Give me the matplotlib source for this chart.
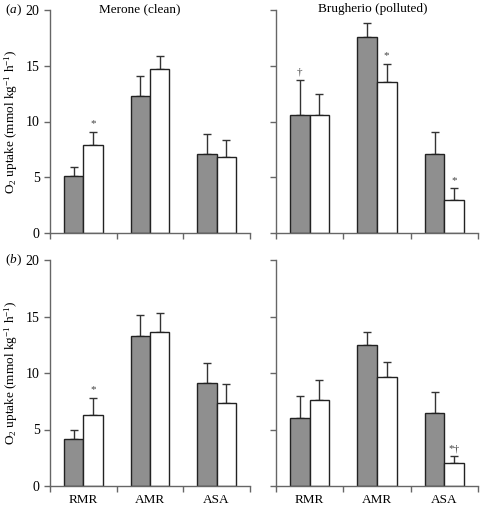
import matplotlib
matplotlib.use("Agg")
import matplotlib.pyplot as plt
import numpy as np

plt.rcParams['font.family'] = ['Liberation Serif', 'DejaVu Serif']
plt.rcParams['mathtext.fontset'] = 'custom'
plt.rcParams['mathtext.rm'] = 'Liberation Serif'
plt.rcParams['mathtext.it'] = 'Liberation Serif:italic'

categories = ["RMR", "AMR", "ASA"]
sites = ["Merone (clean)", "Brugherio (polluted)"]
panels = ["a", "b"]

# panel (a)
a_merone_grey = [5.15, 12.3, 7.1]
a_merone_grey_err = [0.8, 1.8, 1.75]
a_merone_white = [7.9, 14.75, 6.85]
a_merone_white_err = [1.2, 1.1, 1.45]
a_brug_grey = [10.55, 17.6, 7.05]
a_brug_grey_err = [3.15, 1.2, 2.0]
a_brug_white = [10.55, 13.55, 2.95]
a_brug_white_err = [1.9, 1.65, 1.05]

# panel (b)
b_merone_grey = [4.15, 13.25, 9.15]
b_merone_grey_err = [0.8, 1.85, 1.7]
b_merone_white = [6.25, 13.6, 7.35]
b_merone_white_err = [1.55, 1.75, 1.7]
b_brug_grey = [6.0, 12.45, 6.45]
b_brug_grey_err = [2.0, 1.15, 1.85]
b_brug_white = [7.6, 9.65, 2.0]
b_brug_white_err = [1.75, 1.3, 0.62]

# significance markers: (category index, which bar, symbol)
a_merone_marks = [(0, "white", "*")]
a_brug_marks = [(0, "grey", "\u2020"), (1, "white", "*"), (2, "white", "*")]
b_merone_marks = [(0, "white", "*")]
b_brug_marks = [(2, "white", "*\u2020")]

data = {
    (0, 0): (a_merone_grey, a_merone_grey_err, a_merone_white, a_merone_white_err, a_merone_marks),
    (0, 1): (a_brug_grey, a_brug_grey_err, a_brug_white, a_brug_white_err, a_brug_marks),
    (1, 0): (b_merone_grey, b_merone_grey_err, b_merone_white, b_merone_white_err, b_merone_marks),
    (1, 1): (b_brug_grey, b_brug_grey_err, b_brug_white, b_brug_white_err, b_brug_marks),
}

W, H = 480, 505
fig = plt.figure(figsize=(W / 100, H / 100), dpi=100)

lefts = [50, 276]
widths = [200, 202]
tops = [10, 260]
bottoms = [233, 486]
title_x = [140, 373]

spine_col = "#666666"
grey_fill = "#8f8f8f"
w = 0.29
x = np.arange(len(categories))

for r in range(2):
    for c in range(2):
        ax = fig.add_axes([lefts[c] / W, (H - bottoms[r]) / H, widths[c] / W, (bottoms[r] - tops[r]) / H])
        g, ge, wh, whe, marks = data[(r, c)]
        xg = x - w / 2
        xw = x + w / 2
        ax.errorbar(xg, g, yerr=[np.zeros(len(g)), ge], fmt='none', ecolor='#333333',
                    elinewidth=1.0, capsize=3, capthick=1.0, zorder=1)
        ax.errorbar(xw, wh, yerr=[np.zeros(len(wh)), whe], fmt='none', ecolor='#333333',
                    elinewidth=1.0, capsize=3, capthick=1.0, zorder=1)
        ax.bar(xg, g, width=w, color=grey_fill, edgecolor='#222222', linewidth=1.0, zorder=2)
        ax.bar(xw, wh, width=w, color='white', edgecolor='#222222', linewidth=1.0, zorder=2)
        for (i, which, sym) in marks:
            if which == "grey":
                xx, yy = xg[i], g[i] + ge[i]
            else:
                xx, yy = xw[i], wh[i] + whe[i]
            ax.text(xx, yy + 0.3, sym, ha='center', va='bottom', fontsize=8, color='#444444')
        ax.set_xlim(-0.5, 2.5)
        ax.set_ylim(0, 20)
        ax.set_yticks([0, 5, 10, 15, 20])
        ax.set_xticks([-0.5, 0.5, 1.5, 2.5])
        ax.set_xticklabels([])
        for s in ['top', 'right']:
            ax.spines[s].set_visible(False)
        for s in ['left', 'bottom']:
            ax.spines[s].set_color(spine_col)
            ax.spines[s].set_linewidth(1.0)
        ax.tick_params(axis='both', direction='out', length=4, width=1.0, color=spine_col,
                       labelsize=10)
        if c == 1:
            ax.set_yticklabels([])
        else:
            ax.set_ylabel('O$_2$ uptake (mmol kg$^{-1}$ h$^{-1}$)', fontsize=9.5, labelpad=4)
        if r == 1:
            ax.set_xticks(x, minor=True)
            ax.set_xticklabels(categories, minor=True, fontsize=9.5)
            ax.tick_params(axis='x', which='minor', length=0, pad=6)
        if r == 0:
            fig.text(title_x[c] / W, (H - 9) / H, sites[c], fontsize=9.5, ha='center', va='center')
        if c == 0:
            fig.text(5 / W, (H - tops[r]) / H, '($\\it{' + panels[r] + '}$)', fontsize=9.5,
                     ha='left', va='center')

fig.savefig("out.png", dpi=100)
